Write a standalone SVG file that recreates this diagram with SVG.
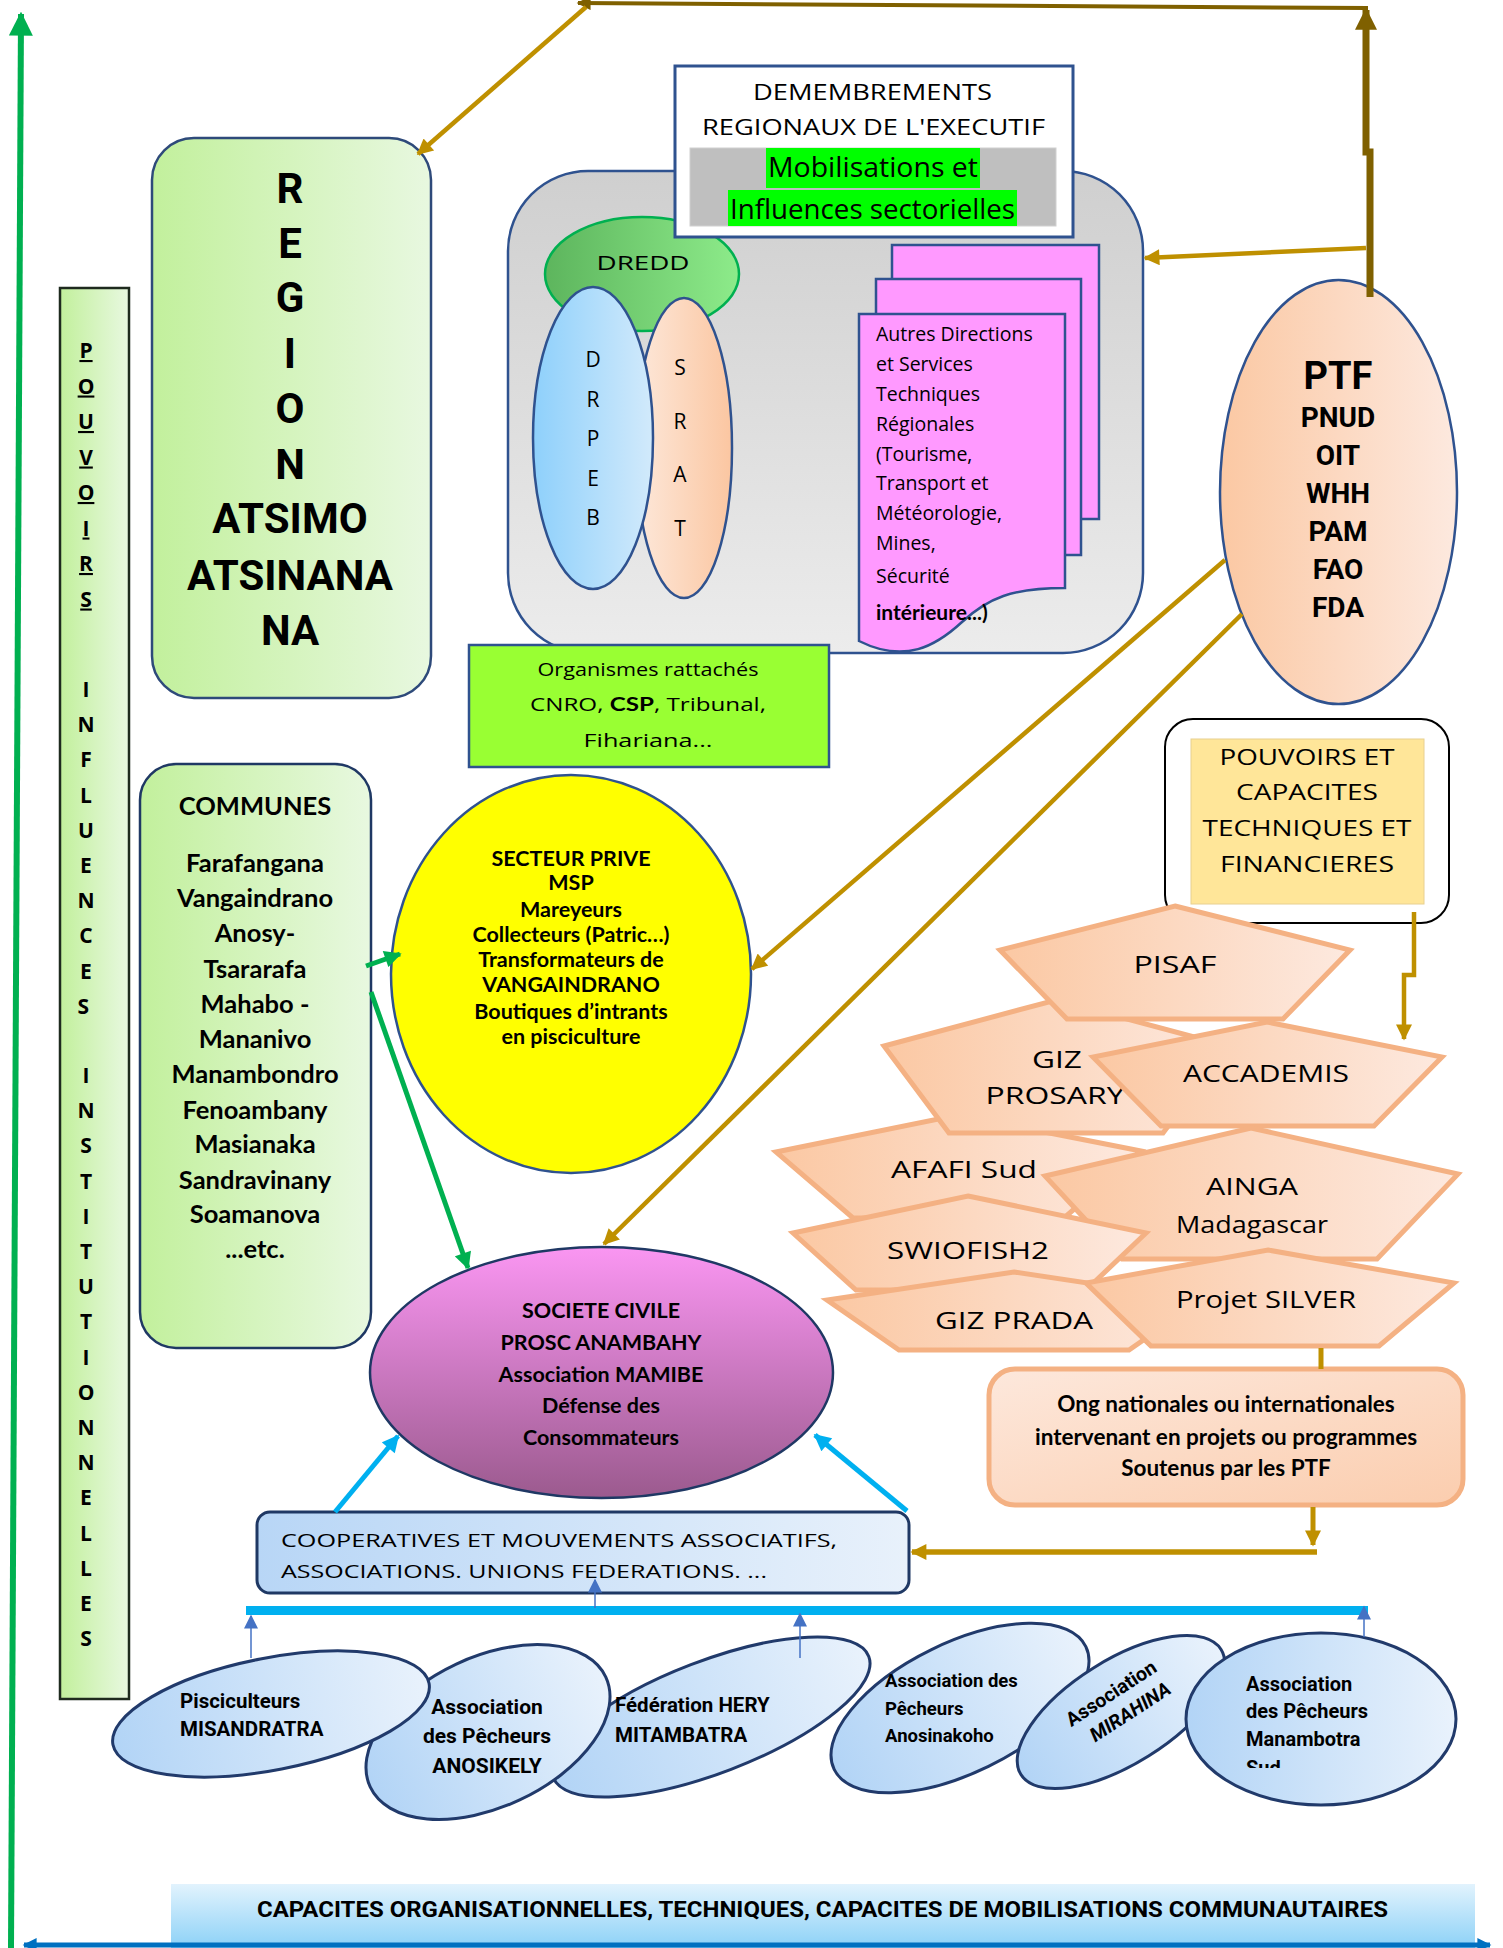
<svg xmlns="http://www.w3.org/2000/svg" width="1503" height="1948" viewBox="0 0 1503 1948">
<style>
.rb{font-family:Roboto,"Liberation Sans",sans-serif;font-weight:700;fill:#000}
.lb{font-family:Lato,"Liberation Sans",sans-serif;font-weight:700;fill:#000}
.hw{font-family:"Open Sans","Liberation Sans",sans-serif;font-weight:400;fill:#000}
.ob{font-family:"Open Sans","Liberation Sans",sans-serif;font-weight:700;fill:#000}
.mid{text-anchor:middle}
.pent{fill:url(#gPeach);stroke:#f4b183;stroke-width:5;stroke-linejoin:miter}
.bell{fill:url(#gBell);stroke:#213a6b;stroke-width:3}
.navy{stroke:#2f528f;stroke-width:2.5}
</style>
<defs>
<linearGradient id="gGreen" x1="0" y1="0" x2="1" y2="0"><stop offset="0" stop-color="#c2f09c"/><stop offset="1" stop-color="#e8f8e0"/></linearGradient>
<linearGradient id="gPeach" x1="0" y1="0" x2="1" y2="0"><stop offset="0" stop-color="#fbc8a3"/><stop offset="1" stop-color="#fde9df"/></linearGradient>
<linearGradient id="gOng" x1="0" y1="0" x2="1" y2="1"><stop offset="0" stop-color="#fde8dc"/><stop offset="1" stop-color="#fbcdae"/></linearGradient>
<linearGradient id="gPink" x1="0" y1="0" x2="0" y2="1"><stop offset="0" stop-color="#fa96f2"/><stop offset="1" stop-color="#9b5a8e"/></linearGradient>
<linearGradient id="gGray" x1="0" y1="0" x2="0" y2="1"><stop offset="0" stop-color="#cfcfcf"/><stop offset="1" stop-color="#ececec"/></linearGradient>
<linearGradient id="gDredd" x1="0" y1="0" x2="1" y2="0"><stop offset="0" stop-color="#5db55d"/><stop offset="1" stop-color="#8deb8a"/></linearGradient>
<linearGradient id="gDrpeb" x1="0" y1="0" x2="1" y2="0"><stop offset="0" stop-color="#8ed0fb"/><stop offset="1" stop-color="#d2eafb"/></linearGradient>
<linearGradient id="gSrat" x1="0" y1="0" x2="1" y2="0"><stop offset="0" stop-color="#fde8da"/><stop offset="1" stop-color="#fbc6a1"/></linearGradient>
<linearGradient id="gCoop" x1="0" y1="0" x2="1" y2="0"><stop offset="0" stop-color="#b8d6f6"/><stop offset="1" stop-color="#e8f1fb"/></linearGradient>
<linearGradient id="gBell" x1="0" y1="0" x2="1" y2="0"><stop offset="0" stop-color="#b2d4f6"/><stop offset="1" stop-color="#e9f2fc"/></linearGradient>
<linearGradient id="gBanner" x1="0" y1="0" x2="0" y2="1"><stop offset="0" stop-color="#e2f3fd"/><stop offset="1" stop-color="#8cd1f7"/></linearGradient>
<marker id="mGold" viewBox="0 0 10 10" refX="9" refY="5" markerUnits="userSpaceOnUse" markerWidth="18" markerHeight="16" orient="auto"><path d="M0,0L10,5L0,10z" fill="#bf9000"/></marker>
<marker id="mBrown" viewBox="0 0 10 10" refX="9" refY="5" markerUnits="userSpaceOnUse" markerWidth="22" markerHeight="22" orient="auto"><path d="M0,0L10,5L0,10z" fill="#7f6000"/></marker>
<marker id="mBrownS" viewBox="0 0 10 10" refX="9" refY="5" markerUnits="userSpaceOnUse" markerWidth="18" markerHeight="14" orient="auto"><path d="M0,0L10,5L0,10z" fill="#7f6000"/></marker>
<marker id="mGreen" viewBox="0 0 10 10" refX="9" refY="5" markerUnits="userSpaceOnUse" markerWidth="18" markerHeight="17" orient="auto"><path d="M0,0L10,5L0,10z" fill="#00b050"/></marker>
<marker id="mGreenL" viewBox="0 0 10 10" refX="9" refY="5" markerUnits="userSpaceOnUse" markerWidth="24" markerHeight="24" orient="auto"><path d="M0,0L10,5L0,10z" fill="#00b050"/></marker>
<marker id="mCyan" viewBox="0 0 10 10" refX="9" refY="5" markerUnits="userSpaceOnUse" markerWidth="18" markerHeight="17" orient="auto"><path d="M0,0L10,5L0,10z" fill="#00b0f0"/></marker>
<marker id="mBlue" viewBox="0 0 10 10" refX="9" refY="5" markerUnits="userSpaceOnUse" markerWidth="16" markerHeight="14" orient="auto"><path d="M0,0L10,5L0,10z" fill="#4472c4"/></marker>
<marker id="mDBlue" viewBox="0 0 10 10" refX="9" refY="5" markerUnits="userSpaceOnUse" markerWidth="18" markerHeight="14" orient="auto-start-reverse"><path d="M0,0L10,5L0,10z" fill="#0070c0"/></marker>
<clipPath id="clipSud"><rect x="1180" y="1600" width="300" height="168"/></clipPath>
</defs>
<rect width="1503" height="1948" fill="#fff"/>

<g id="pouvoirs-bar">
<rect x="60" y="288" width="69" height="1411" fill="url(#gGreen)" stroke="#1e2a1e" stroke-width="2.5"/>
<text class="ob mid" font-size="21" text-decoration="underline">
<tspan x="86" y="358">P</tspan><tspan x="86" y="393.5">O</tspan><tspan x="86" y="429">U</tspan><tspan x="86" y="464.5">V</tspan><tspan x="86" y="500">O</tspan><tspan x="86" y="535.5">I</tspan><tspan x="86" y="571">R</tspan><tspan x="86" y="606.5">S</tspan>
</text>
<text class="ob mid" font-size="21">
<tspan x="86" y="697">I</tspan><tspan x="86" y="732">N</tspan><tspan x="86" y="767">F</tspan><tspan x="86" y="803">L</tspan><tspan x="86" y="838">U</tspan><tspan x="86" y="873">E</tspan><tspan x="86" y="908">N</tspan><tspan x="86" y="943">C</tspan><tspan x="86" y="979">E</tspan><tspan x="86" y="1014">S</tspan>
<tspan x="86" y="1083">I</tspan><tspan x="86" y="1118">N</tspan><tspan x="86" y="1153">S</tspan><tspan x="86" y="1189">T</tspan><tspan x="86" y="1224">I</tspan><tspan x="86" y="1259">T</tspan><tspan x="86" y="1294">U</tspan><tspan x="86" y="1329">T</tspan><tspan x="86" y="1365">I</tspan><tspan x="86" y="1400">O</tspan><tspan x="86" y="1435">N</tspan><tspan x="86" y="1470">N</tspan><tspan x="86" y="1505">E</tspan><tspan x="86" y="1541">L</tspan><tspan x="86" y="1576">L</tspan><tspan x="86" y="1611">E</tspan><tspan x="86" y="1646">S</tspan>
</text>
</g>

<g id="region">
<rect x="152" y="138" width="279" height="560" rx="42" fill="url(#gGreen)" stroke="#2e4a7a" stroke-width="2.5"/>
<text class="rb mid" font-size="42">
<tspan x="290" y="203">R</tspan><tspan x="290" y="258">E</tspan><tspan x="290" y="312">G</tspan><tspan x="290" y="368">I</tspan><tspan x="290" y="423">O</tspan><tspan x="290" y="479">N</tspan><tspan x="290" y="533">ATSIMO</tspan><tspan x="290" y="590">ATSINANA</tspan><tspan x="290" y="645">NA</tspan>
</text>
</g>

<g id="demembrements-container">
<rect x="508" y="171" width="635" height="482" rx="80" fill="url(#gGray)" class="navy"/>
</g>

<g id="dredd">
<ellipse cx="642" cy="274" rx="97" ry="57" fill="url(#gDredd)" stroke="#00b050" stroke-width="2.5"/>
<text class="hw mid" x="643" y="270" font-size="20" textLength="93" lengthAdjust="spacingAndGlyphs">DREDD</text>
</g>
<g id="srat">
<ellipse cx="684" cy="448" rx="48" ry="150" fill="url(#gSrat)" class="navy"/>
<text class="hw mid" font-size="21"><tspan x="680" y="375">S</tspan><tspan x="680" y="429">R</tspan><tspan x="680" y="482">A</tspan><tspan x="680" y="536">T</tspan></text>
</g>
<g id="drpeb">
<ellipse cx="593" cy="438" rx="60" ry="151" fill="url(#gDrpeb)" class="navy"/>
<text class="hw mid" font-size="21"><tspan x="593" y="367">D</tspan><tspan x="593" y="407">R</tspan><tspan x="593" y="446">P</tspan><tspan x="593" y="486">E</tspan><tspan x="593" y="525">B</tspan></text>
</g>

<g id="autres-directions">
<rect x="892" y="245" width="207" height="274" fill="#ff99ff" class="navy"/>
<rect x="876" y="279" width="205" height="276" fill="#ff99ff" class="navy"/>
<path d="M859,314 H1065 V588 C1012,588 988,598 962,622 C936,646 905,664 859,641 Z" fill="#ff99ff" class="navy"/>
<text class="hw" font-size="19.5">
<tspan x="876" y="341">Autres Directions</tspan><tspan x="876" y="371">et Services</tspan><tspan x="876" y="401">Techniques</tspan><tspan x="876" y="431">Régionales</tspan><tspan x="876" y="461">(Tourisme,</tspan><tspan x="876" y="490">Transport et</tspan><tspan x="876" y="520">Météorologie,</tspan><tspan x="876" y="550">Mines,</tspan><tspan x="876" y="583">Sécurité</tspan>
</text>
<text class="lb" x="876" y="620" font-size="21">intérieure...)</text>
</g>

<g id="demembrements-title">
<rect x="675" y="66" width="398" height="171" fill="#fff" stroke="#2f528f" stroke-width="3"/>
<rect x="690" y="148" width="366" height="78" fill="#bfbfbf" stroke="#d0d0d0" stroke-width="1"/>
<rect x="766" y="148" width="214" height="40" fill="#00ff00"/>
<rect x="728" y="190" width="289" height="36" fill="#00ff00"/>
<text class="hw" x="753" y="100" font-size="21" textLength="239" lengthAdjust="spacingAndGlyphs">DEMEMBREMENTS</text>
<text class="hw" x="702" y="135" font-size="21" textLength="343" lengthAdjust="spacingAndGlyphs">REGIONAUX DE L'EXECUTIF</text>
<text class="hw" x="768" y="177" font-size="27" textLength="210" lengthAdjust="spacingAndGlyphs">Mobilisations et</text>
<text class="hw" x="730" y="219" font-size="27" textLength="285" lengthAdjust="spacingAndGlyphs">Influences sectorielles</text>
</g>

<g id="organismes">
<rect x="469" y="645" width="360" height="122" fill="#99ff33" class="navy"/>
<text class="hw mid" x="648" y="676" font-size="19" textLength="221" lengthAdjust="spacingAndGlyphs">Organismes rattachés</text>
<text class="hw mid" x="648" y="711" font-size="19" textLength="236" lengthAdjust="spacingAndGlyphs">CNRO, <tspan class="lb">CSP</tspan>, Tribunal,</text>
<text class="hw mid" x="648" y="747" font-size="19" textLength="129" lengthAdjust="spacingAndGlyphs">Fihariana...</text>
</g>

<g id="ptf">
<ellipse cx="1338.5" cy="492" rx="118.5" ry="212" fill="url(#gPeach)" class="navy"/>
<text class="rb mid" x="1338" y="389" font-size="38">PTF</text>
<text class="rb mid" font-size="28"><tspan x="1338" y="427">PNUD</tspan><tspan x="1338" y="465">OIT</tspan><tspan x="1338" y="503">WHH</tspan><tspan x="1338" y="541">PAM</tspan><tspan x="1338" y="579">FAO</tspan><tspan x="1338" y="617">FDA</tspan></text>
</g>

<g id="pouvoirs-capacites">
<rect x="1165" y="719" width="284" height="204" rx="28" fill="#fff" stroke="#000" stroke-width="2"/>
<rect x="1191" y="739" width="233" height="165" fill="#ffe699" stroke="#e8d090" stroke-width="1"/>
<text class="hw mid" x="1307" y="765" font-size="21" textLength="175" lengthAdjust="spacingAndGlyphs">POUVOIRS ET</text>
<text class="hw mid" x="1307" y="800" font-size="21" textLength="142" lengthAdjust="spacingAndGlyphs">CAPACITES</text>
<text class="hw mid" x="1307" y="836" font-size="21" textLength="209" lengthAdjust="spacingAndGlyphs">TECHNIQUES ET</text>
<text class="hw mid" x="1307" y="872" font-size="21" textLength="174" lengthAdjust="spacingAndGlyphs">FINANCIERES</text>
</g>

<g id="communes">
<rect x="140" y="764" width="231" height="584" rx="36" fill="url(#gGreen)" stroke="#1f3864" stroke-width="2.5"/>
<text class="lb mid" x="255" y="815" font-size="25.5">COMMUNES</text>
<text class="lb mid" font-size="25.5">
<tspan x="255" y="872">Farafangana</tspan><tspan x="255" y="907">Vangaindrano</tspan><tspan x="255" y="942">Anosy-</tspan><tspan x="255" y="978">Tsararafa</tspan><tspan x="255" y="1013">Mahabo -</tspan><tspan x="255" y="1048">Mananivo</tspan><tspan x="255" y="1083">Manambondro</tspan><tspan x="255" y="1119">Fenoambany</tspan><tspan x="255" y="1153">Masianaka</tspan><tspan x="255" y="1189">Sandravinany</tspan><tspan x="255" y="1223">Soamanova</tspan><tspan x="255" y="1258">...etc.</tspan>
</text>
</g>

<g id="secteur-prive">
<ellipse cx="571" cy="974" rx="180" ry="199" fill="#ffff00" class="navy"/>
<text class="lb mid" font-size="21.5">
<tspan x="571" y="866">SECTEUR PRIVE</tspan><tspan x="571" y="890">MSP</tspan><tspan x="571" y="917">Mareyeurs</tspan><tspan x="571" y="942">Collecteurs (Patric…)</tspan><tspan x="571" y="967">Transformateurs de</tspan><tspan x="571" y="992">VANGAINDRANO</tspan><tspan x="571" y="1019">Boutiques d’intrants</tspan><tspan x="571" y="1044">en pisciculture</tspan>
</text>
</g>

<g id="societe-civile">
<ellipse cx="601.5" cy="1372.5" rx="231.5" ry="125.5" fill="url(#gPink)" stroke="#1f3864" stroke-width="2.5"/>
<text class="lb mid" font-size="21.5">
<tspan x="601" y="1318">SOCIETE CIVILE</tspan><tspan x="601" y="1350">PROSC ANAMBAHY</tspan><tspan x="601" y="1382">Association MAMIBE</tspan><tspan x="601" y="1413">Défense des</tspan><tspan x="601" y="1445">Consommateurs</tspan>
</text>
</g>

<g id="projets">
<g id="afafi"><polygon class="pent" points="958,1115 1141,1151 1064,1218 853,1218 776,1152"/><text class="hw mid" x="964" y="1178" font-size="24" textLength="146" lengthAdjust="spacingAndGlyphs">AFAFI Sud</text></g>
<g id="giz-prosary"><polygon class="pent" points="1056,1000 1228,1046 1163,1133 949,1133 884,1046"/><text class="hw mid" x="1057" y="1068" font-size="24" textLength="50" lengthAdjust="spacingAndGlyphs">GIZ</text><text class="hw mid" x="1055" y="1104" font-size="24" textLength="139" lengthAdjust="spacingAndGlyphs">PROSARY</text></g>
<g id="pisaf"><polygon class="pent" points="1175,906 1350,950 1283,1019 1067,1019 1000,950"/><text class="hw mid" x="1175" y="973" font-size="24" textLength="83" lengthAdjust="spacingAndGlyphs">PISAF</text></g>
<g id="accademis"><polygon class="pent" points="1267,1022 1442,1057 1374,1126 1161,1126 1093,1057"/><text class="hw mid" x="1266" y="1082" font-size="24" textLength="166" lengthAdjust="spacingAndGlyphs">ACCADEMIS</text></g>
<g id="ainga"><polygon class="pent" points="1251,1128 1458,1174 1377,1259 1122,1259 1045,1176"/><text class="hw mid" x="1252" y="1195" font-size="24" textLength="92" lengthAdjust="spacingAndGlyphs">AINGA</text><text class="hw mid" x="1252" y="1233" font-size="24" textLength="152" lengthAdjust="spacingAndGlyphs">Madagascar</text></g>
<g id="swiofish"><polygon class="pent" points="968,1196 1146,1233 1086,1290 856,1290 793,1233"/><text class="hw mid" x="968" y="1259" font-size="24" textLength="162" lengthAdjust="spacingAndGlyphs">SWIOFISH2</text></g>
<g id="giz-prada"><polygon class="pent" points="1014,1272 1201,1300 1129,1350 899,1350 827,1300"/><text class="hw mid" x="1014" y="1329" font-size="24" textLength="158" lengthAdjust="spacingAndGlyphs">GIZ PRADA</text></g>
<g id="silver"><polygon class="pent" points="1268,1250 1454,1283 1379,1346 1151,1346 1086,1283"/><text class="hw mid" x="1266" y="1308" font-size="24" textLength="180" lengthAdjust="spacingAndGlyphs">Projet SILVER</text></g>
</g>

<g id="ong">
<rect x="989" y="1369" width="474" height="136" rx="26" fill="url(#gOng)" stroke="#f4b183" stroke-width="5"/>
<text class="lb mid" font-size="22.5">
<tspan x="1226" y="1412">Ong nationales ou internationales</tspan><tspan x="1226" y="1445">intervenant en projets ou programmes</tspan><tspan x="1226" y="1476">Soutenus par les PTF</tspan>
</text>
</g>

<g id="cooperatives">
<rect x="257" y="1512" width="652" height="81" rx="13" fill="url(#gCoop)" stroke="#1f3864" stroke-width="3"/>
<text class="hw" x="281" y="1547" font-size="19" textLength="556" lengthAdjust="spacingAndGlyphs">COOPERATIVES ET MOUVEMENTS ASSOCIATIFS,</text>
<text class="hw" x="281" y="1578" font-size="19" textLength="486" lengthAdjust="spacingAndGlyphs">ASSOCIATIONS. UNIONS FEDERATIONS. ...</text>
</g>

<g id="assoc-anosinakoho">
<ellipse class="bell" cx="960" cy="1708" rx="140" ry="65" transform="rotate(-26 960 1708)"/>
<text class="rb" font-size="18.5"><tspan x="885" y="1687">Association des</tspan><tspan x="885" y="1715">Pêcheurs</tspan><tspan x="885" y="1742">Anosinakoho</tspan></text>
</g>
<g id="federation-hery">
<ellipse class="bell" cx="711" cy="1717" rx="169" ry="56" transform="rotate(-21 711 1717)"/>
<text class="rb" font-size="20.5"><tspan x="615" y="1712">Fédération HERY</tspan><tspan x="615" y="1742">MITAMBATRA</tspan></text>
</g>
<g id="assoc-anosikely">
<ellipse class="bell" cx="488" cy="1732" rx="130" ry="75" transform="rotate(-25 488 1732)"/>
<text class="rb mid" font-size="21"><tspan x="487" y="1714">Association</tspan><tspan x="487" y="1743">des Pêcheurs</tspan><tspan x="487" y="1773">ANOSIKELY</tspan></text>
</g>
<g id="pisciculteurs">
<ellipse class="bell" cx="271" cy="1714" rx="161" ry="56" transform="rotate(-11 271 1714)"/>
<text class="rb" font-size="20.5"><tspan x="180" y="1708">Pisciculteurs</tspan><tspan x="180" y="1736">MISANDRATRA</tspan></text>
</g>
<g id="assoc-mirahina">
<ellipse class="bell" cx="1121" cy="1712" rx="118" ry="52" transform="rotate(-32 1121 1712)"/>
<g transform="translate(1118 1704) rotate(-33)">
<text class="rb mid" x="0" y="-6" font-size="19.5">Association</text>
<text class="rb mid" x="6" y="20" font-size="19.5" font-style="italic">MIRAHINA</text>
</g>
</g>
<g id="assoc-manambotra">
<ellipse class="bell" cx="1321" cy="1719" rx="135" ry="86"/>
<text class="rb" font-size="20" clip-path="url(#clipSud)"><tspan x="1246" y="1691">Association</tspan><tspan x="1246" y="1718">des Pêcheurs</tspan><tspan x="1246" y="1746">Manambotra</tspan><tspan x="1246" y="1775">Sud</tspan></text>
</g>

<g id="banner">
<rect x="171" y="1884" width="1304" height="64" fill="url(#gBanner)"/>
<text class="rb" x="257" y="1917" font-size="22" textLength="1131" lengthAdjust="spacingAndGlyphs">CAPACITES ORGANISATIONNELLES, TECHNIQUES, CAPACITES DE MOBILISATIONS COMMUNAUTAIRES</text>
</g>

<g id="connectors" fill="none">
<line x1="11" y1="1948" x2="21" y2="14" stroke="#00b050" stroke-width="6" marker-end="url(#mGreenL)"/>
<line x1="24" y1="1945" x2="1490" y2="1945" stroke="#0070c0" stroke-width="5" marker-start="url(#mDBlue)" marker-end="url(#mDBlue)"/>
<polyline points="1370,297 1370,152 1366,152 1366,10" stroke="#7f6000" stroke-width="7" marker-end="url(#mBrown)"/>
<line x1="1368" y1="8" x2="578" y2="3" stroke="#7f6000" stroke-width="4" marker-end="url(#mBrownS)"/>
<line x1="586" y1="7" x2="418" y2="154" stroke="#bf9000" stroke-width="4.5" marker-end="url(#mGold)"/>
<line x1="1366" y1="248" x2="1145" y2="258" stroke="#bf9000" stroke-width="4.5" marker-end="url(#mGold)"/>
<line x1="1225" y1="560" x2="752" y2="969" stroke="#bf9000" stroke-width="4.5" marker-end="url(#mGold)"/>
<line x1="1242" y1="614" x2="604" y2="1244" stroke="#bf9000" stroke-width="4.5" marker-end="url(#mGold)"/>
<polyline points="1414,912 1414,975 1404,975 1404,1039" stroke="#bf9000" stroke-width="4.5" marker-end="url(#mGold)"/>
<line x1="1321" y1="1348" x2="1321" y2="1369" stroke="#bf9000" stroke-width="5"/>
<line x1="1313" y1="1507" x2="1313" y2="1545" stroke="#bf9000" stroke-width="5" marker-end="url(#mGold)"/>
<line x1="1317" y1="1552" x2="912" y2="1552" stroke="#bf9000" stroke-width="5.5" marker-end="url(#mGold)"/>
<line x1="366" y1="966" x2="400" y2="954" stroke="#00b050" stroke-width="5" marker-end="url(#mGreen)"/>
<line x1="371" y1="992" x2="468" y2="1268" stroke="#00b050" stroke-width="5" marker-end="url(#mGreen)"/>
<line x1="335" y1="1512" x2="398" y2="1436" stroke="#00b0f0" stroke-width="5" marker-end="url(#mCyan)"/>
<line x1="907" y1="1511" x2="815" y2="1435" stroke="#00b0f0" stroke-width="5" marker-end="url(#mCyan)"/>
<rect x="246" y="1606" width="1122" height="9" fill="#00b0f0"/>
<line x1="251" y1="1658" x2="251" y2="1616" stroke="#4472c4" stroke-width="1.5" marker-end="url(#mBlue)"/>
<line x1="595" y1="1608" x2="595" y2="1580" stroke="#4472c4" stroke-width="1.5" marker-end="url(#mBlue)"/>
<line x1="800" y1="1658" x2="800" y2="1614" stroke="#4472c4" stroke-width="1.5" marker-end="url(#mBlue)"/>
<line x1="1364" y1="1637" x2="1364" y2="1607" stroke="#4472c4" stroke-width="1.5" marker-end="url(#mBlue)"/>
</g>
</svg>
